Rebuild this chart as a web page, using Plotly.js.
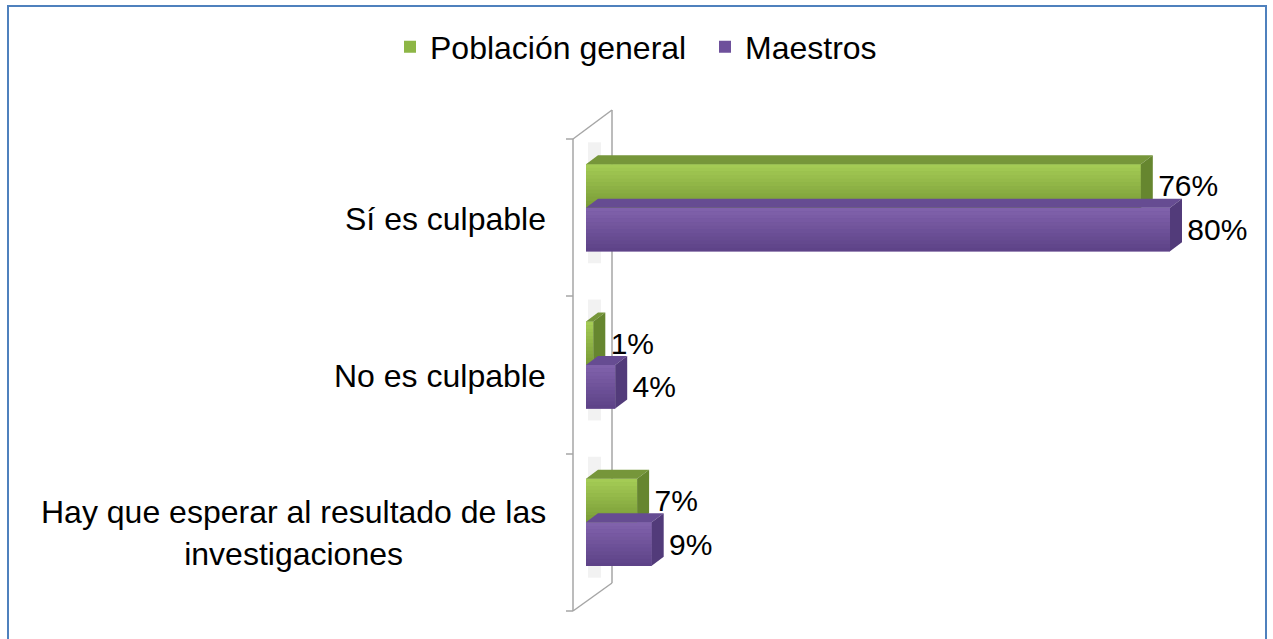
<!DOCTYPE html>
<html>
<head>
<meta charset="utf-8">
<script src="https://cdn.plot.ly/plotly-3.0.1.min.js"></script>
<style>
  html, body { margin: 0; padding: 0; background: #ffffff; }
  #chart { width: 1273px; height: 639px; }
</style>
</head>
<body>
<div id="chart"></div>
<script>
// ---- Data ----
const categories = [
  'Sí es culpable',
  'No es culpable',
  'Hay que esperar al resultado de las<br>investigaciones'
];
const seriesNames = ['Población general', 'Maestros'];
const poblacion = [76, 1, 7];
const maestros = [80, 4, 9];

// ---- Styling / layout constants ----
const FIG_W = 1273, FIG_H = 639;
const M = { l: 586, r: 30, t: 129, b: 38 };
const PW = FIG_W - M.l - M.r;
const PH = FIG_H - M.t - M.b;
const XMAX = 90;
const BARGAP = 0.447;
const FONT = '"Liberation Sans", Arial, sans-serif';
const colors = {
  front: ['#8db646', '#6e509b'],
  gradTop: [[166, 205, 86], [130, 99, 173]],
  gradBot: [[120, 154, 54], [92, 66, 134]],
  top:   ['#76963a', '#664c92'],
  side:  ['#66862f', '#523b7a']
};
const DEPTH_PX = { x: 12, y: 9 };
const GRAD_STEPS = 12;

// pixel -> paper helpers
const pxX = px => (px - M.l) / PW;
const pxY = py => (FIG_H - M.b - py) / PH;
const n = categories.length;
// category position -> paper y (reversed axis, range [-0.5, n-0.5])
const posY = p => 1 - (p + 0.5) / n;

const bw = (1 - BARGAP) / 2;
const dxData = DEPTH_PX.x * XMAX / PW;
const dyPaper = DEPTH_PX.y / PH;
const mix = (a, b, t) => 'rgb(' + a.map((v, k) => Math.round(v + (b[k] - v) * t)).join(',') + ')';

const shapes = [];

// faint shadows on the wall behind each bar pair
categories.forEach((c, i) => {
  shapes.push({
    type: 'rect', xref: 'paper', yref: 'paper', layer: 'below',
    x0: pxX(588), x1: pxX(601),
    y0: posY(i - bw) + 22 / PH, y1: posY(i + bw) - 12 / PH,
    fillcolor: 'rgba(0,0,0,0.05)', line: { width: 0 }
  });
});

// 3D faces + gradient for each bar
[poblacion, maestros].forEach((vals, s) => {
  vals.forEach((v, i) => {
    const topPos = s === 0 ? i - bw : i;
    const botPos = topPos + bw;
    const yt = posY(topPos), yb = posY(botPos);
    for (let k = 0; k < GRAD_STEPS; k++) {
      const y0 = yt - (yt - yb) * k / GRAD_STEPS;
      const y1 = yt - (yt - yb) * (k + 1) / GRAD_STEPS;
      shapes.push({
        type: 'rect', xref: 'x', yref: 'paper',
        x0: 0, x1: v, y0: y0, y1: y1 - 0.0005,
        fillcolor: mix(colors.gradTop[s], colors.gradBot[s], (k + 0.5) / GRAD_STEPS),
        line: { width: 0 }
      });
    }
    shapes.push({
      type: 'path', xref: 'x', yref: 'paper',
      path: `M 0,${yt} L ${v},${yt} L ${v + dxData},${yt + dyPaper} L ${dxData},${yt + dyPaper} Z`,
      fillcolor: colors.top[s], line: { width: 0 }
    });
    shapes.push({
      type: 'path', xref: 'x', yref: 'paper',
      path: `M ${v},${yt} L ${v + dxData},${yt + dyPaper} L ${v + dxData},${yb + dyPaper} L ${v},${yb} Z`,
      fillcolor: colors.side[s], line: { width: 0 }
    });
  });
});

// wall outline (3D floor on the left)
const wallColor = '#a6a6a6';
const wall = [
  [573, 139, 573, 611],
  [612, 110, 612, 583],
  [573, 139, 612, 110],
  [573, 611, 612, 583]
];
[139, 296, 454, 611].forEach(y => wall.push([566, y, 573, y]));
wall.forEach(([x0, y0, x1, y1]) => shapes.push({
  type: 'line', xref: 'paper', yref: 'paper',
  x0: pxX(x0), y0: pxY(y0), x1: pxX(x1), y1: pxY(y1),
  line: { color: wallColor, width: 1.5 }, layer: 'below'
}));

// outer blue frame
shapes.push({
  type: 'rect', xref: 'paper', yref: 'paper',
  x0: pxX(8), x1: pxX(1266), y0: pxY(650), y1: pxY(6),
  line: { color: '#4f81bd', width: 2 }, fillcolor: 'rgba(0,0,0,0)'
});

// category labels (centered multi-line)
const annotations = categories.map((c, i) => ({
  xref: 'paper', yref: 'paper',
  x: 0, y: posY(i), xanchor: 'right', yanchor: 'middle',
  xshift: -38, yshift: -11,
  text: c, showarrow: false, align: 'center',
  font: { family: FONT, size: 32, color: '#000000' }
}));

const mkTrace = (vals, s) => ({
  type: 'bar', orientation: 'h',
  name: seriesNames[s],
  legend: s === 0 ? 'legend' : 'legend2',
  y: categories, x: vals,
  marker: { color: colors.front[s], line: { width: 0 } },
  texttemplate: '\u00a0\u2009%{x}%',
  textposition: 'outside',
  constraintext: 'none',
  cliponaxis: false,
  textfont: { family: FONT, size: 30, color: '#000000' },
  hoverinfo: 'skip'
});

const data = [mkTrace(poblacion, 0), mkTrace(maestros, 1)];

const legendBase = {
  orientation: 'h', xanchor: 'left', y: pxY(47), yanchor: 'middle',
  font: { family: FONT, size: 32, color: '#000000' },
  itemwidth: 30, bgcolor: 'rgba(0,0,0,0)'
};

const layout = {
  width: FIG_W, height: FIG_H,
  margin: M,
  paper_bgcolor: '#ffffff', plot_bgcolor: 'rgba(0,0,0,0)',
  barmode: 'group', bargap: BARGAP, bargroupgap: 0,
  font: { family: FONT, size: 31, color: '#000000' },
  xaxis: {
    range: [0, XMAX], visible: false, showgrid: false, zeroline: false, fixedrange: true
  },
  yaxis: {
    type: 'category', autorange: false, range: [n - 0.5, -0.5],
    showticklabels: false, showgrid: false, zeroline: false, showline: false, ticks: ''
  },
  showlegend: true,
  legend: Object.assign({}, legendBase, { x: pxX(390) }),
  legend2: Object.assign({}, legendBase, { x: pxX(705) }),
  shapes: shapes,
  annotations: annotations
};

Plotly.newPlot('chart', data, layout, { displayModeBar: false, staticPlot: true });
</script>
</body>
</html>
